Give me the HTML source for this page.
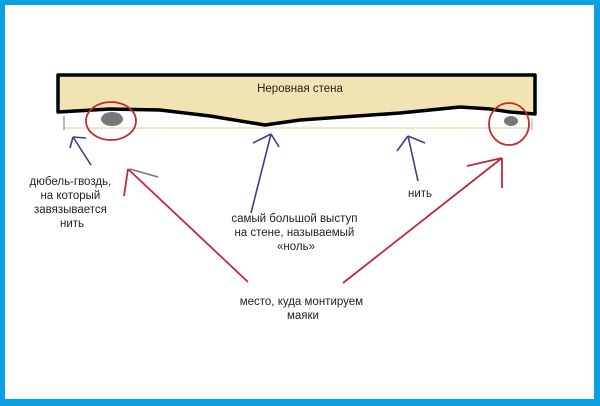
<!DOCTYPE html>
<html><head><meta charset="utf-8"><style>
html,body{margin:0;padding:0;background:#fff}
svg{display:block}
text{font-family:"Liberation Sans","DejaVu Sans",sans-serif;font-size:11.5px;fill:#222}
</style></head><body>
<svg width="600" height="406" viewBox="0 0 600 406" xmlns="http://www.w3.org/2000/svg">
<rect x="0" y="0" width="600" height="406" fill="#0aa0e2"/>
<rect x="5" y="5" width="589" height="394" fill="#fff"/>
<!-- wall -->
<path d="M58,75 L535,75 L535,114 L510,112 L490,109 L460,107 L400,113 L300,120 L265,125 L210,116 L160,110 L110,109 L58,112 Z" fill="#f2e3b3" stroke="#000" stroke-width="3.5" stroke-linejoin="round"/>
<text x="300" y="92" text-anchor="middle">Неровная стена</text>
<!-- thread -->
<line x1="64" y1="128" x2="532" y2="128" stroke="#e8e0b8" stroke-width="1.5"/>
<line x1="64" y1="116" x2="64" y2="130" stroke="#888" stroke-width="1.2"/>
<line x1="532" y1="118" x2="532" y2="130" stroke="#aaa" stroke-width="1"/>
<!-- dots & circles -->
<ellipse cx="112" cy="119" rx="11" ry="7" fill="#777"/>
<ellipse cx="111" cy="121" rx="25" ry="19" fill="none" stroke="#c02a2a" stroke-width="1.8"/>
<ellipse cx="511" cy="121" rx="7" ry="5" fill="#777"/>
<ellipse cx="509" cy="124" rx="20" ry="21" fill="none" stroke="#c02a2a" stroke-width="1.8"/>
<!-- blue arrows -->
<g stroke="#3c3e8c" stroke-width="1.6" fill="none">
<path d="M91,165 L73,137 M73,137 L70,148 M73,137 L86,138"/>
<path d="M251,213 L271,134 M271,134 L253,143 M271,134 L279,147"/>
<path d="M418,181 L408,136 M408,136 L397,151 M408,136 L425,143"/>
</g>
<!-- red arrows -->
<g stroke="#c0283a" stroke-width="1.8" fill="none">
<path d="M248,282 L128,169 M128,169 L124,196"/>
<path d="M343,283 L502,158 M502,158 L467,166 M502,158 L502,188"/>
</g>
<line x1="130" y1="169" x2="158" y2="177" stroke="#777" stroke-width="1.6"/>
<!-- labels -->
<text text-anchor="middle">
<tspan x="72" y="185">дюбель-гвоздь,</tspan>
<tspan x="72" y="199">на который</tspan>
<tspan x="72" y="213">завязывается</tspan>
<tspan x="72" y="227">нить</tspan>
</text>
<text text-anchor="middle">
<tspan x="296" y="222">самый большой выступ</tspan>
<tspan x="296" y="236">на стене, называемый</tspan>
<tspan x="296" y="250">«ноль»</tspan>
</text>
<text x="420" y="197" text-anchor="middle">нить</text>
<text text-anchor="middle">
<tspan x="303" y="305">место, куда монтируем</tspan>
<tspan x="303" y="319">маяки</tspan>
</text>
<rect x="0" y="399" width="600" height="7" fill="#0aa0e2"/>
</svg>
</body></html>
